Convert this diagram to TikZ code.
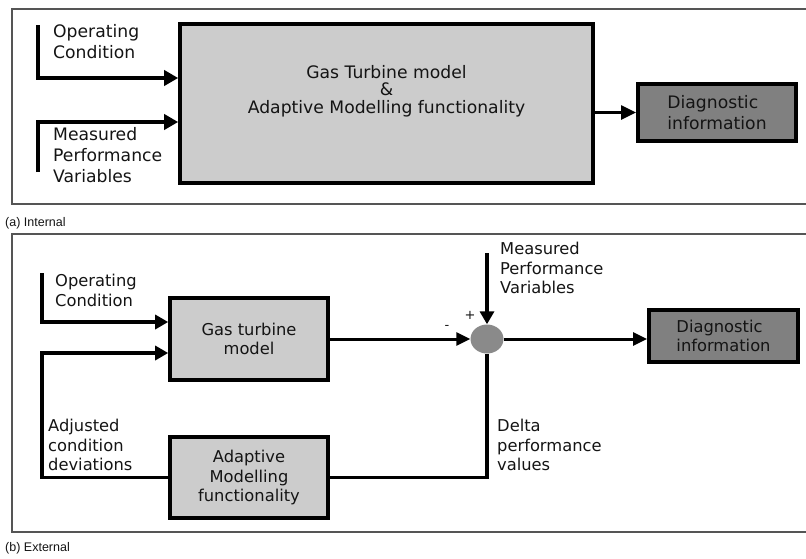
\documentclass[tikz,border=0pt]{standalone}
\usepackage{fontspec}
\setmainfont{DejaVu Sans}
\newfontfamily\capfamily{Liberation Sans}
\usetikzlibrary{arrows.meta,shapes.geometric}
\newcommand\fontA{\fontsize{17.2}{21}\selectfont}
\newcommand\fontAbig{\fontsize{17.2}{17.5}\selectfont}
\newcommand\fontB{\fontsize{16.3}{19.5}\selectfont}
\newcommand\fontCap{\capfamily\fontsize{12.5}{14}\selectfont}
\definecolor{txt}{HTML}{141414}
\definecolor{lightbox}{HTML}{CCCCCC}
\definecolor{darkbox}{HTML}{808080}
\definecolor{sumfill}{HTML}{8A8A8A}
\definecolor{framecol}{HTML}{555555}
\begin{document}
\begin{tikzpicture}[x=1pt,y=-1pt,
  frame/.style={draw=framecol, line width=1.2pt},
  lightblock/.style={draw=black, line width=3.6pt, fill=lightbox, text=txt, align=center, inner sep=0pt},
  darkblock/.style={draw=black, line width=4pt, fill=darkbox, text=txt, align=left, inner sep=0pt},
  lbl/.style={inner sep=0pt, align=left, anchor=west, text=txt},
  wireA/.style={line width=4pt, -{Triangle[length=14pt,width=15pt]}},
  wireAthin/.style={line width=2.6pt, -{Triangle[length=15pt,width=14pt]}},
  wireB/.style={line width=3.8pt, -{Triangle[length=13pt,width=14pt]}},
  wireBthin/.style={line width=3pt, -{Triangle[length=14pt,width=13pt]}},
  plainwire/.style={line width=3.8pt},
  sumnode/.style={ellipse, fill=sumfill, draw=none, inner sep=0pt, minimum width=33pt, minimum height=29pt}
]
\useasboundingbox (0,0) rectangle (806,558);

% ---------- (a) Internal ----------
\draw[frame] (806,9) -- (12,9) -- (12,204) -- (806,204);
\node[lightblock, minimum width=413pt, minimum height=159pt] (bigA) at (386.5,103.5) {};
\node[text=txt, align=center, inner sep=0pt, font=\fontAbig] (bigAtxt) at (386.5,91) {Gas Turbine model\\\&\\Adaptive Modelling functionality};
\node[darkblock, minimum width=158pt, minimum height=57pt, font=\fontA] (diagA) at (717,112.5) {Diagnostic\\information};

\coordinate (opAstart) at (38,25);
\coordinate (mpAstart) at (38,172);
\draw[wireA] (opAstart) |- ([yshift=25.5pt]bigA.west);
\draw[wireA] (mpAstart) |- ([yshift=-18.5pt]bigA.west);
\draw[wireAthin] (bigA.east |- diagA.west) -- (diagA.west);

\node[lbl, font=\fontA] (opAlbl) at (53,42) {Operating\\Condition};
\node[lbl, font=\fontA] (mpAlbl) at (53,155) {Measured\\Performance\\Variables};
\node[anchor=west, inner sep=0pt, text=txt, font=\fontCap] (capA) at (5,223) {(a) Internal};

% ---------- (b) External ----------
\draw[frame] (806,234) -- (12,234) -- (12,532) -- (806,532);
\node[lightblock, minimum width=158pt, minimum height=82pt, font=\fontB] (gt) at (249,339) {Gas turbine\\model};
\node[lightblock, minimum width=158pt, minimum height=81pt, font=\fontB] (adapt) at (249,477.5) {Adaptive\\Modelling\\functionality};
\node[sumnode] (sum) at (487,339) {};
\node[darkblock, minimum width=149pt, minimum height=52pt, font=\fontB] (diagB) at (723.5,336) {Diagnostic\\information};

\coordinate (opBstart) at (42,273);
\coordinate (adjTop) at (42,353);
\coordinate (mpBstart) at (487,253);
\draw[wireB] (opBstart) |- ([yshift=17pt]gt.west);
\draw[wireB] (adapt.west) -| (adjTop) -- (adjTop -| gt.west);
\draw[wireBthin] (gt.east) -- (sum.west);
\draw[wireB] (mpBstart) -- (sum.north);
\draw[wireBthin] (sum.east) -- (sum.east -| diagB.west);
\draw[plainwire] (sum.south) |- (adapt.east);

\node[lbl, font=\fontB] (opBlbl) at (55,290.5) {Operating\\Condition};
\node[lbl, font=\fontB] (adjlbl) at (48,445) {Adjusted\\condition\\deviations};
\node[lbl, font=\fontB] (mpBlbl) at (500,268) {Measured\\Performance\\Variables};
\node[lbl, font=\fontB] (deltalbl) at (497,445) {Delta\\performance\\values};
\node[text=txt, inner sep=0pt, font=\fontsize{13}{13}\selectfont] (plus) at (470,315) {+};
\node[text=txt, inner sep=0pt, font=\fontsize{13}{13}\selectfont] (minus) at (447,327) {-};
\node[anchor=west, inner sep=0pt, text=txt, font=\fontCap] (capB) at (5,548) {(b) External};
\end{tikzpicture}
\end{document}
